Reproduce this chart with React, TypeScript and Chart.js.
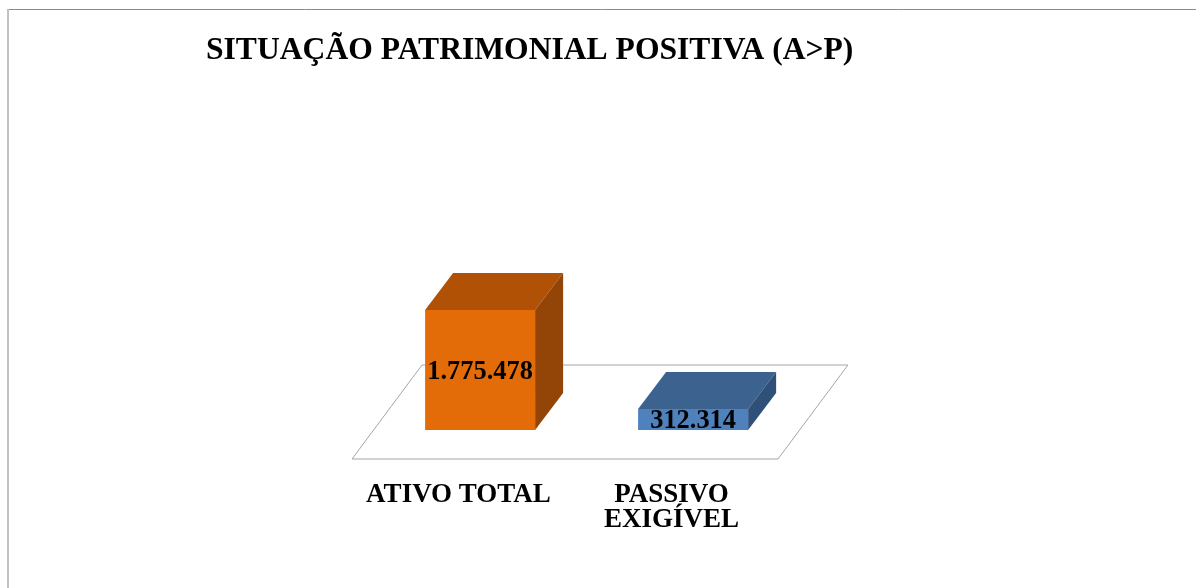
import { useEffect, useRef } from "react";
import { Chart, registerables } from "chart.js";

Chart.register(...registerables);

const TITLE = "SITUAÇÃO PATRIMONIAL POSITIVA (A>P)";
const CATEGORIES: string[][] = [["ATIVO TOTAL"], ["PASSIVO", "EXIGÍVEL"]];
const VALUES: number[] = [1775478, 312314];
const VALUE_LABELS: string[] = ["1.775.478", "312.314"];
const FRONT_COLORS: string[] = ["#E36C09", "#4F81BD"];
const TOP_COLORS: string[] = ["#B05105", "#3C6390"];
const SIDE_COLORS: string[] = ["#934507", "#2F5179"];
const Y_MIN = 0;
const Y_MAX = 2000000;

const W = 1196;
const H = 588;
const SERIF = "'Liberation Serif', 'Times New Roman', serif";

// depth geometry (pixels)
const BAR_DX = 28;
const BAR_DY = 37;
const FLOOR_FRONT_DX = -21.6;
const FLOOR_FRONT_DY = 29;
const FLOOR_BACK_DX = 48.4;
const FLOOR_BACK_DY = -65;

const pseudo3D = {
  id: "pseudo3D",
  beforeDraw(chart: any) {
    const ctx = chart.ctx as CanvasRenderingContext2D;
    ctx.save();
    ctx.fillStyle = "#ffffff";
    ctx.fillRect(0, 0, W, H);
    ctx.strokeStyle = "#8a8a8a";
    ctx.lineWidth = 1;
    ctx.beginPath();
    ctx.moveTo(7, 9.5);
    ctx.lineTo(W, 9.5);
    ctx.stroke();
    ctx.strokeStyle = "#c2c2c2";
    ctx.lineWidth = 2;
    ctx.beginPath();
    ctx.moveTo(8, 9);
    ctx.lineTo(8, H);
    ctx.stroke();
    ctx.fillStyle = "#000000";
    ctx.font = `bold 31.6px ${SERIF}`;
    ctx.textAlign = "left";
    ctx.textBaseline = "alphabetic";
    ctx.fillText(TITLE, 206, 59);
    ctx.restore();
  },
  beforeDatasetsDraw(chart: any) {
    const ctx = chart.ctx as CanvasRenderingContext2D;
    const { left, right, bottom } = chart.chartArea;
    ctx.save();
    ctx.beginPath();
    ctx.moveTo(left + FLOOR_FRONT_DX, bottom + FLOOR_FRONT_DY);
    ctx.lineTo(right + FLOOR_FRONT_DX, bottom + FLOOR_FRONT_DY);
    ctx.lineTo(right + FLOOR_BACK_DX, bottom + FLOOR_BACK_DY);
    ctx.lineTo(left + FLOOR_BACK_DX, bottom + FLOOR_BACK_DY);
    ctx.closePath();
    ctx.fillStyle = "#ffffff";
    ctx.fill();
    ctx.strokeStyle = "#a6a6a6";
    ctx.lineWidth = 1;
    ctx.stroke();
    ctx.restore();
  },
  afterDatasetsDraw(chart: any) {
    const ctx = chart.ctx as CanvasRenderingContext2D;
    const meta = chart.getDatasetMeta(0);
    meta.data.forEach((bar: any, i: number) => {
      const { x, y, base, width } = bar.getProps(["x", "y", "base", "width"], true);
      const l = x - width / 2;
      const r = x + width / 2;
      ctx.save();
      // top face
      ctx.beginPath();
      ctx.moveTo(l, y);
      ctx.lineTo(r, y);
      ctx.lineTo(r + BAR_DX, y - BAR_DY);
      ctx.lineTo(l + BAR_DX, y - BAR_DY);
      ctx.closePath();
      ctx.fillStyle = TOP_COLORS[i];
      ctx.fill();
      // side face
      ctx.beginPath();
      ctx.moveTo(r, y);
      ctx.lineTo(r + BAR_DX, y - BAR_DY);
      ctx.lineTo(r + BAR_DX, base - BAR_DY);
      ctx.lineTo(r, base);
      ctx.closePath();
      ctx.fillStyle = SIDE_COLORS[i];
      ctx.fill();
      // value label
      ctx.fillStyle = "#000000";
      ctx.font = `bold 26.4px ${SERIF}`;
      ctx.textAlign = "center";
      ctx.textBaseline = "middle";
      ctx.fillText(VALUE_LABELS[i], x, (y + base) / 2 + 2);
      ctx.restore();
    });
  },
};

export default function App() {
  const ref = useRef<HTMLCanvasElement | null>(null);

  useEffect(() => {
    if (!ref.current) return;
    const chartLeft = 373.6;
    const chartRight = 799.6;
    const chartBottom = 430;
    const pxPerUnit = 120 / VALUES[0];
    const chartTop = chartBottom - (Y_MAX - Y_MIN) * pxPerUnit;
    const xAxisHeight = 150;

    const chart = new Chart(ref.current, {
      type: "bar",
      data: {
        labels: CATEGORIES,
        datasets: [
          {
            data: VALUES,
            backgroundColor: FRONT_COLORS,
            borderWidth: 0,
            barPercentage: 110 / 213,
            categoryPercentage: 1,
          },
        ],
      },
      options: {
        responsive: false,
        animation: false,
        events: [],
        layout: {
          padding: {
            left: chartLeft,
            right: W - chartRight,
            top: chartTop,
            bottom: H - chartBottom - xAxisHeight,
          },
        },
        plugins: {
          legend: { display: false },
          tooltip: { enabled: false },
          title: { display: false },
        },
        scales: {
          x: {
            type: "category",
            grid: { display: false },
            border: { display: false },
            ticks: {
              color: "#000000",
              font: { family: SERIF, size: 27, weight: "bold", lineHeight: 0.94 },
              padding: 44,
              labelOffset: FLOOR_FRONT_DX,
              maxRotation: 0,
              autoSkip: false,
            },
            afterFit: (scale: any) => {
              scale.height = xAxisHeight;
            },
          },
          y: {
            display: false,
            min: Y_MIN,
            max: Y_MAX,
          },
        },
      },
      plugins: [pseudo3D],
    });
    return () => chart.destroy();
  }, []);

  return (
    <div style={{ position: "fixed", left: 0, top: 0, width: W, height: H, background: "#fff" }}>
      <canvas ref={ref} width={W} height={H} style={{ display: "block", width: W, height: H }} />
    </div>
  );
}
